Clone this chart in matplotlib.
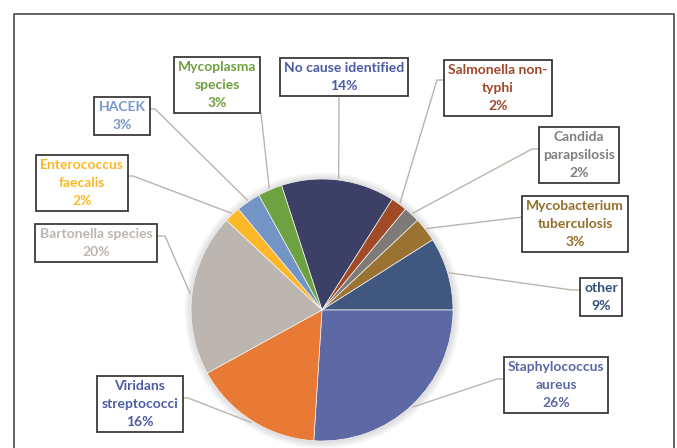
import numpy as np
import matplotlib.pyplot as plt
from matplotlib.patches import Circle

# Daten (Reihenfolge im Uhrzeigersinn, beginnend links oben)
labels = ['No cause identified', 'Salmonella non-\ntyphi', 'Candida\nparapsilosis',
          'Mycobacterium\ntuberculosis', 'other', 'Staphylococcus\naureus',
          'Viridans\nstreptococci', 'Bartonella species', 'Enterococcus\nfaecalis',
          'HACEK', 'Mycoplasma\nspecies']
values = [14, 2, 2, 3, 9, 26, 16, 20, 2, 3, 3]

slice_colors = ['#3c3f66', '#a04a26', '#7e7a78', '#9a7231', '#405880', '#5d68a5',
                '#e87a35', '#bdb5b0', '#fdb827', '#7395c6', '#6ea240']
text_colors = ['#4c5aa3', '#a0462a', '#7f7f7f', '#946e2a', '#33507d', '#5a67a6',
               '#4e5ca5', '#bfb6b0', '#fdb827', '#7699cc', '#6e9f3d']

W, H = 677, 448
# Layout in Pixeln (y nach unten): Boxmitte, Ankerpunkt an der Box, Knick
box_pos = [(344, 77), (498, 88), (579, 155), (575, 224), (601, 297), (556, 385),
           (140, 404), (96, 243), (82, 183), (122, 116), (217, 85)]
anchor = [(339, 98), (443, 80), (539, 149), (523, 217), (579, 290), (504, 379),
          (182, 398), (157, 236), (127, 176), (147, 109), (261, 113)]
elbow = [(339, 98), (437, 80), (532, 149), (523, 217), (572, 290), (497, 379),
         (188, 398), (165, 236), (133, 176), (155, 109), (261, 113)]

cx, cy, r = 322, H - 310, 131
start = 108

fig = plt.figure(figsize=(W / 100, H / 100), dpi=100)
ax = fig.add_axes([0, 0, 1, 1])

# weicher Schatten
for i in range(8, 0, -1):
    ax.add_patch(Circle((cx + 0.5, cy - 0.5), r + i * 0.9, color='#8a8a8a',
                        alpha=0.035, lw=0, zorder=1))

wedges, _ = ax.pie(values, colors=slice_colors, startangle=start, counterclock=False,
                   center=(cx, cy), radius=r,
                   wedgeprops=dict(edgecolor='#f4f4f4', linewidth=0.5, zorder=2))

cum = np.cumsum([0] + values[:-1])
for i, lab in enumerate(labels):
    th = np.deg2rad(start - 360 * (cum[i] + values[i] / 2) / 100)
    px, py = cx + (r + 2) * np.cos(th), cy + (r + 2) * np.sin(th)
    ex, ey = elbow[i]
    axx, ayy = anchor[i]
    ax.plot([px, ex, axx], [py, H - ey, H - ayy], color='#bcb4ac', lw=1.0, zorder=3)
    bx, by = box_pos[i]
    ax.text(bx, H - by, f'{lab}\n{values[i]}%', ha='center', va='center',
            multialignment='center', color=text_colors[i], fontsize=10,
            fontweight='bold', family=['Lato', 'DejaVu Sans'], linespacing=1.6,
            zorder=5,
            bbox=dict(boxstyle='square,pad=0.3', fc='white', ec='#3a3a3a', lw=1.3))

# Rahmen
ax.plot([14, 14, 674, 674], [0, H - 14, H - 14, 0], color='#555555', lw=1.3, zorder=0)

ax.set_xlim(0, W)
ax.set_ylim(0, H)
ax.set_aspect('equal')
ax.axis('off')

fig.savefig('out.png', dpi=100)
